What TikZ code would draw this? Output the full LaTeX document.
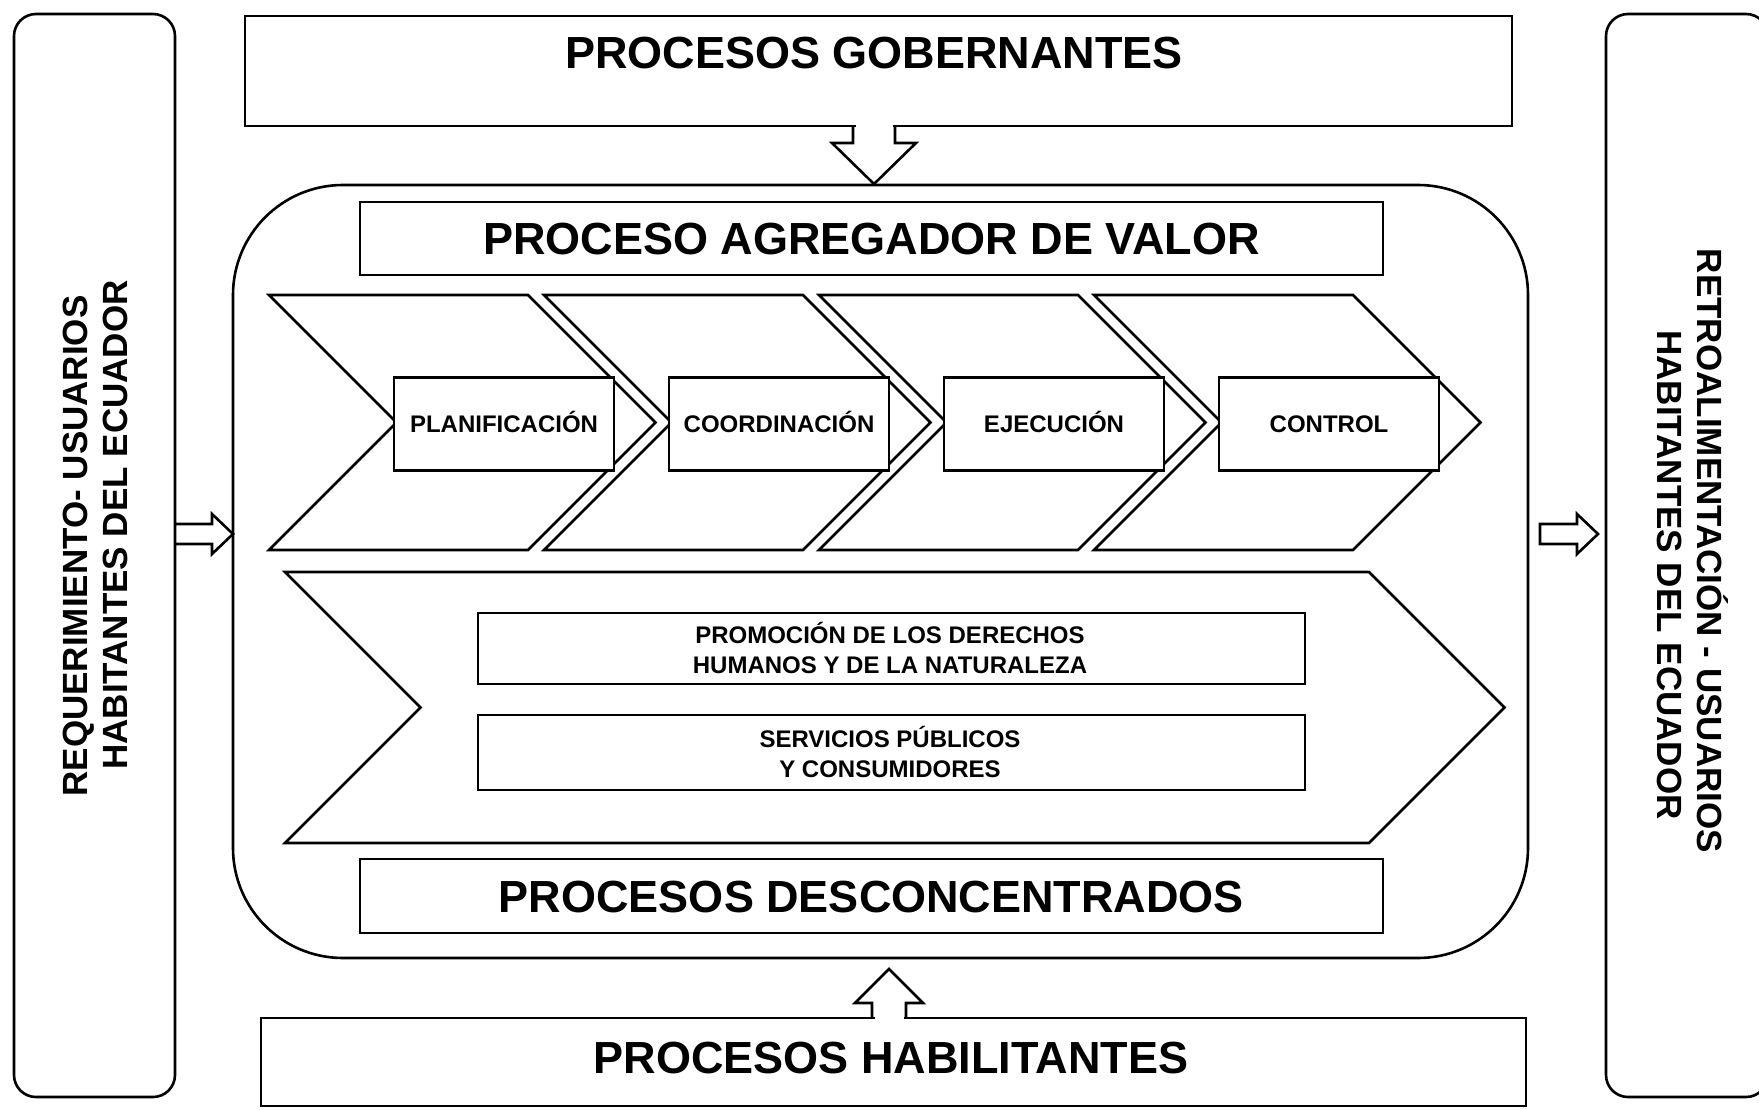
\documentclass[tikz,border=0pt]{standalone}
\usepackage{fontspec}
\setmainfont{Liberation Sans}
\begin{document}
\begin{tikzpicture}[x=1pt,y=-1pt,line join=miter,
  ln/.style={line width=2.6pt},
  bx/.style={draw,line width=2.6pt,fill=white,inner sep=0pt,outer sep=0pt},
  bigtxt/.style={font=\bfseries\fontsize{45}{54}\selectfont,text height=32pt,text depth=0pt},
  smtxt/.style={font=\bfseries\fontsize{24}{29}\selectfont,text height=17pt,text depth=0pt},
  smline/.style={font=\bfseries\fontsize{24}{29}\selectfont,anchor=base,inner sep=0pt},
  bigline/.style={font=\bfseries\fontsize{45}{54}\selectfont,anchor=base,inner sep=0pt},
  side/.style={font=\bfseries\fontsize{35}{42}\selectfont,anchor=base,inner sep=0pt}]
\useasboundingbox (0,0) rectangle (1759,1110);

% side boxes
\draw[ln,rounded corners=22pt] (14,14) rectangle (175,1097);
\draw[ln,rounded corners=22pt] (1606,14) rectangle (1768,1097);
\node[side,rotate=90] (req1) at (87,546) {REQUERIMIENTO- USUARIOS};
\node[side,rotate=90] (req2) at (127,525) {HABITANTES DEL ECUADOR};
\node[side,rotate=-90] (ret1) at (1697,551) {RETROALIMENTACIÓN - USUARIOS};
\node[side,rotate=-90] (ret2) at (1657,575) {HABITANTES DEL ECUADOR};

% top box
\node[bx,minimum width=1267pt,minimum height=110pt] (gob) at (878.5,71) {};
\node[bigline] (gobt) at (874,69) {PROCESOS GOBERNANTES};
\fill[white] (855.5,120) rectangle (892.5,132);
\draw[ln] (853,126) -- (853,143) -- (832,143) -- (874,184) -- (916,143) -- (895,143) -- (895,126);

% main rounded box
\draw[ln,rounded corners=110pt] (233,185) rectangle (1528,958);

\node[bx,bigtxt,minimum width=1023pt,minimum height=73pt] (agr) at (871.5,238.5) {PROCESO AGREGADOR DE VALOR};

% chevrons
\foreach \i in {0,...,3} {
  \pgfmathsetmacro\L{269+275*\i}
  \draw[ln] (\L,295) -- ++(259,0) -- ++(127.5,127.5) -- ++(-127.5,127.5) -- ++(-259,0) -- ++(127.5,-127.5) -- cycle;
}
\node[bx,smtxt,minimum width=220pt,minimum height=93pt] (plan) at (504,424) {PLANIFICACIÓN};
\node[bx,smtxt,minimum width=220pt,minimum height=93pt] (coord) at (779,424) {COORDINACIÓN};
\node[bx,smtxt,minimum width=220pt,minimum height=93pt] (ejec) at (1054,424) {EJECUCIÓN};
\node[bx,smtxt,minimum width=220pt,minimum height=93pt] (ctrl) at (1329,424) {CONTROL};

% big chevron
\draw[ln] (285,572) -- (1369,572) -- (1504.5,707.5) -- (1369,843) -- (285,843) -- (420.5,707.5) -- cycle;
\node[bx,minimum width=827pt,minimum height=71pt] (promo) at (891.5,648.5) {};
\node[smline] (promo1) at (890,643) {PROMOCIÓN DE LOS DERECHOS};
\node[smline] (promo2) at (890,673) {HUMANOS  Y DE LA NATURALEZA};
\node[bx,minimum width=827pt,minimum height=75pt] (serv) at (891.5,752.5) {};
\node[smline] (serv1) at (890,747) {SERVICIOS PÚBLICOS};
\node[smline] (serv2) at (890,777) {Y CONSUMIDORES};

\node[bx,bigtxt,minimum width=1023pt,minimum height=74pt] (desc) at (871.5,896) {PROCESOS DESCONCENTRADOS};

% bottom box
\node[bx,minimum width=1265pt,minimum height=88pt] (hab) at (893.5,1062) {};
\node[bigline] (habt) at (891,1073) {PROCESOS HABILITANTES};
\fill[white] (874.5,1012) rectangle (903.5,1024);
\draw[ln] (872,1018) -- (872,1003) -- (855,1003) -- (889,969) -- (923,1003) -- (906,1003) -- (906,1018);

% side arrows
\draw[ln] (175,524) -- (212,524) -- (212,514) -- (233,534) -- (212,554) -- (212,544) -- (175,544);
\draw[ln] (1540,524) -- (1577,524) -- (1577,514) -- (1598,534) -- (1577,554) -- (1577,544) -- (1540,544) -- cycle;
\end{tikzpicture}
\end{document}
